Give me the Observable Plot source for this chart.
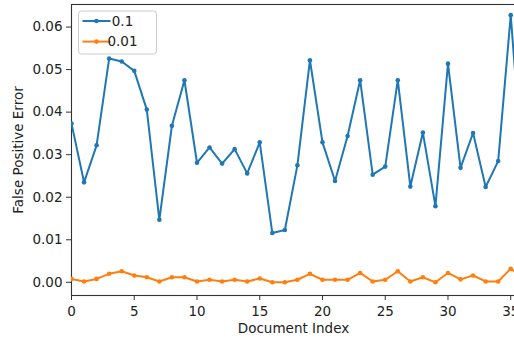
<!DOCTYPE html>
<html>
<head>
<meta charset="utf-8">
<script src="https://cdn.jsdelivr.net/npm/d3@7"></script>
<script src="https://cdn.jsdelivr.net/npm/@observablehq/plot@0.6"></script>
<style>
  html, body { margin: 0; padding: 0; background: #fff; overflow: hidden; }
  #chart { width: 514px; height: 339px; overflow: hidden; position: relative; }
  #chart svg { max-width: none !important; }
</style>
</head>
<body>
<div id="chart"></div>
<script>
const seriesNames = ["0.1", "0.01"];
const seriesColors = ["#1f77b4", "#ff7f0e"];
const fpr01 = [0.0373, 0.0235, 0.0322, 0.0526, 0.0519, 0.0497, 0.0406, 0.0147, 0.0368, 0.0475,
               0.0281, 0.0317, 0.0279, 0.0313, 0.0256, 0.0329, 0.0116, 0.0123, 0.0275, 0.0522,
               0.0329, 0.0238, 0.0344, 0.0475, 0.0253, 0.0272, 0.0475, 0.0225, 0.0352, 0.0179,
               0.0514, 0.0269, 0.0351, 0.0224, 0.0285, 0.0628, 0.0240];
const fpr001 = [0.0008, 0.0002, 0.0008, 0.0020, 0.0026, 0.0016, 0.0012, 0.0002, 0.0012, 0.0012,
                0.0002, 0.0006, 0.0002, 0.0006, 0.0002, 0.0009, 0.0000, 0.0000, 0.0006, 0.0020,
                0.0006, 0.0006, 0.0006, 0.0022, 0.0002, 0.0006, 0.0026, 0.0002, 0.0012, 0.0000,
                0.0022, 0.0007, 0.0016, 0.0002, 0.0002, 0.0032, 0.0011];
const xTicks = [0, 5, 10, 15, 20, 25, 30, 35];
const yTicks = [0.00, 0.01, 0.02, 0.03, 0.04, 0.05, 0.06];
const xLabel = "Document Index";
const yLabel = "False Positive Error";

const data = [
  ...fpr01.map((v, i) => ({doc: i, value: v, series: seriesNames[0]})),
  ...fpr001.map((v, i) => ({doc: i, value: v, series: seriesNames[1]}))
];

const chart = Plot.plot({
  width: 516,
  height: 339,
  marginLeft: 71,
  marginRight: 1,
  marginTop: 4,
  marginBottom: 44,
  style: {fontFamily: "DejaVu Sans", fontSize: "13.5px", color: "#222", background: "#fff"},
  x: {domain: [0, 35.38], ticks: xTicks, tickFormat: d3.format("d"), label: null},
  y: {domain: [-0.0031, 0.0653], ticks: yTicks, tickFormat: d3.format(".2f"), label: null},
  color: {domain: seriesNames, range: seriesColors},
  marks: [
    Plot.frame({stroke: "#333", strokeWidth: 1.1}),
    Plot.axisX({ticks: xTicks, tickFormat: d3.format("d"), tickSize: 5, tickPadding: 6, stroke: "#333", label: null}),
    Plot.axisY({ticks: yTicks, tickFormat: d3.format(".2f"), tickSize: 5, tickPadding: 4, stroke: "#333", label: null}),
    Plot.line(data, {x: "doc", y: "value", z: "series", stroke: "series", strokeWidth: 2, clip: true}),
    Plot.dot(data, {x: "doc", y: "value", fill: "series", r: 2.3, clip: true}),
    Plot.text([xLabel], {frameAnchor: "bottom", dy: 33, lineAnchor: "middle", textAnchor: "middle", fill: "#222", fontSize: 13.5}),
    Plot.text([yLabel], {frameAnchor: "left", dx: -53, rotate: -90, lineAnchor: "middle", textAnchor: "middle", fill: "#222", fontSize: 13.5})
  ]
});

document.getElementById("chart").appendChild(chart);

// Legend (matplotlib-style box, upper left)
const svg = d3.select(chart);
const lg = svg.append("g").attr("transform", "translate(78.5,11)");
lg.append("rect").attr("width", 78).attr("height", 43).attr("rx", 3)
  .attr("fill", "#fff").attr("fill-opacity", 0.8).attr("stroke", "#ccc");
seriesNames.forEach((name, i) => {
  const y = 10 + i * 20.6;
  lg.append("line").attr("x1", 4).attr("x2", 32).attr("y1", y).attr("y2", y)
    .attr("stroke", seriesColors[i]).attr("stroke-width", 2);
  lg.append("circle").attr("cx", 18).attr("cy", y).attr("r", 2.3).attr("fill", seriesColors[i]);
  lg.append("text").attr("x", 44).attr("y", y).attr("dy", "0.35em")
    .attr("font-family", "DejaVu Sans").attr("font-size", 13.5).attr("fill", "#222").text(name);
});
</script>
</body>
</html>
